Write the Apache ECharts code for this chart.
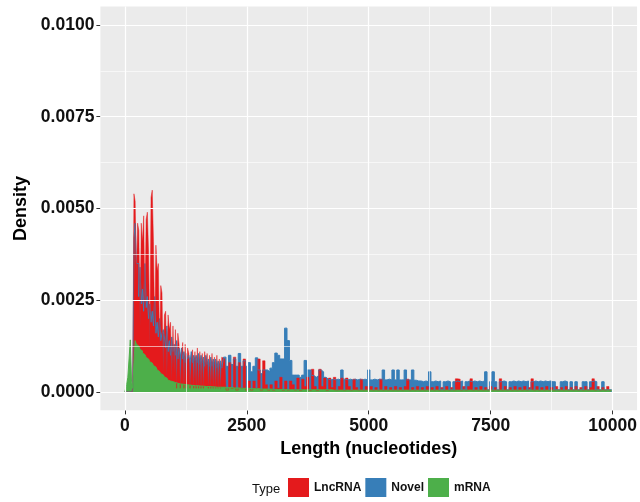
<!DOCTYPE html>
<html>
<head>
<meta charset="utf-8">
<script src="https://cdn.jsdelivr.net/npm/echarts@6/dist/echarts.min.js"></script>
<style>html,body{margin:0;padding:0;background:#fff}#c{width:640px;height:502px}</style>
</head>
<body>
<div id="c"></div>
<script>
// x positions (nucleotides)
const lengthsEarly = [
0,25,50,75,100,125,150,175,200,225,
250,275,300,325,350,375,400,425,450,475,
500,525,550,575,600,625,650,675,700,725,
750,775,800,825,850,875,900,925,950,975,
1000,1025,1050,1075,1100,1125,1150,1175,1200,1225,
1250,1275,1300,1325,1350,1375,1400,1425,1450,1475,
1500,1525,1550,1575,1600,1625,1650,1675,1700,1725,
1750,1775,1800,1825,1850,1875,1900,1925,1950,1975,
2000];
const lengthsLate = [
2050,2100,2150,2200,2250,2300,2350,2400,2450,2500,
2550,2600,2650,2700,2750,2800,2850,2900,2950,3000,
3050,3100,3150,3200,3250,3300,3350,3400,3450,3500,
3550,3600,3650,3700,3750,3800,3850,3900,3950,4000,
4050,4100,4150,4200,4250,4300,4350,4400,4450,4500,
4550,4600,4650,4700,4750,4800,4850,4900,4950,5000,
5050,5100,5150,5200,5250,5300,5350,5400,5450,5500,
5550,5600,5650,5700,5750,5800,5850,5900,5950,6000,
6050,6100,6150,6200,6250,6300,6350,6400,6450,6500,
6550,6600,6650,6700,6750,6800,6850,6900,6950,7000,
7050,7100,7150,7200,7250,7300,7350,7400,7450,7500,
7550,7600,7650,7700,7750,7800,7850,7900,7950,8000,
8050,8100,8150,8200,8250,8300,8350,8400,8450,8500,
8550,8600,8650,8700,8750,8800,8850,8900,8950,9000,
9050,9100,9150,9200,9250,9300,9350,9400,9450,9500,
9550,9600,9650,9700,9750,9800,9850,9900,9950,10000];

// LncRNA density
const lncEarly = [
0,0,0,0,0,0,0,0.0001,0.0054,0.0052,
0.0031,0.0046,0.0044,0.0018,0.0046,0.0041,0.0048,0.0022,0.0047,0.0049,
0.0038,0.0012,0.0053,0.0055,0.0041,0.0015,0.0040,0.0033,0.0035,0.0012,
0.0029,0.0027,0.0005,0.0021,0.0022,0.0004,0.0021,0.0017,0.0019,0.0003,
0.0018,0.0005,0.0017,0.0001,0.0016,0.0013,0.0001,0.0010,0.00135,0.0001,
0.0013,0.0001,0.0012,0.00105,0.0001,0.0008,0.00115,0.0001,0.0011,0.0001,
0.0012,0.0001,0.0011,0.0001,0.00105,0.0001,0.0011,0.0006,0.00105,0.0001,
0.001,0.0001,0.00105,0.0001,0.00095,0.0001,0.001,0.0001,0.0009,0.0001,
0.00095];
const lncLate = [
0.0009,0.00005,0.0008,0.0001,0.00095,0.00005,0.0008,0.0001,0.0009,0.00005,
0.0003,0.00005,0.0003,0.0001,0.0009,0.00005,0.00085,0.0002,0.00005,0.0002,
0.00005,0.0003,0.0001,0.0004,0.00005,0.0003,0.00005,0.0003,0.0002,0.00005,
0.00038,0.00004,0.00035,0.00015,0.0004,0.00004,0.00062,0.00015,0.00004,0.00062,
0.00015,0.00038,0.00004,0.00038,0.00012,0.0004,0.00004,0.00015,0.00038,0.00004,
0.00038,0.00015,0.00004,0.00035,0.00012,0.00004,0.00035,0.00004,0.00015,0.00004,
0.00015,0.00004,0.00012,0.00004,0.00035,0.00004,0.00015,0.00004,0.00012,0.00004,
0.00015,0.00004,0.00012,0.00004,0.00015,0.00035,0.00004,0.00012,0.00004,0.00015,
0.00004,0.00012,0.00004,0.00015,0.00004,0.00012,0.00004,0.00015,0.00004,0.00012,
0.00004,0.00015,0.00004,0.00012,0.00004,0.00036,0.00035,0.00004,0.00015,0.00004,
0.00015,0.00036,0.00004,0.00012,0.00004,0.00015,0.00004,0.00012,0.00004,0.00015,
0.00004,0.00012,0.00004,0.00036,0.00004,0.00015,0.00004,0.00012,0.00004,0.00015,
0.00004,0.00012,0.00004,0.00015,0.00004,0.00012,0.00036,0.00004,0.00015,0.00004,
0.00012,0.00004,0.00015,0.00004,0.00012,0.00004,0.00015,0.00004,0.00012,0.00004,
0.00015,0.00004,0.00012,0.00004,0.00015,0.00004,0.00012,0.00004,0.00015,0.00004,
0.00012,0.00036,0.00004,0.00015,0.00004,0.00012,0.00004,0.00015,0.00004,0.00008];

// Novel density
const novelEarly = [
0,0,0,0,0,0,0,0.0001,0.0042,0.0046,
0.0035,0.0035,0.0026,0.0034,0.0024,0.0028,0.0022,0.0035,0.0023,0.0026,
0.0020,0.0024,0.0019,0.0022,0.0018,0.0026,0.0016,0.0019,0.0015,0.0020,
0.0014,0.0016,0.0017,0.0015,0.0012,0.0018,0.0011,0.0014,0.0010,0.0015,
0.0011,0.0013,0.0010,0.0014,0.0009,0.0012,0.00095,0.0012,0.0009,0.0011,
0.0008,0.00105,0.0009,0.0010,0.0008,0.0011,0.0008,0.0010,0.00085,0.0010,
0.0008,0.00105,0.00075,0.0010,0.0008,0.00095,0.0007,0.0010,0.00075,0.0009,
0.0007,0.00095,0.0007,0.0009,0.00075,0.0009,0.00065,0.00085,0.0007,0.00085,
0.00065];
const novelLate = [
0.00095,0.0007,0.001,0.00075,0.0009,0.0007,0.00105,0.0007,0.00085,0.0007,
0.0008,0.00055,0.0007,0.00093,0.0006,0.0005,0.0006,0.0006,0.00055,0.00065,
0.0008,0.00106,0.001,0.0009,0.0009,0.00174,0.0014,0.00086,0.00046,0.00046,
0.00046,0.0004,0.00046,0.00086,0.0006,0.0006,0.00045,0.0004,0.00045,0.0006,
0.00055,0.0004,0.00035,0.00033,0.00035,0.00033,0.00035,0.00033,0.0006,0.00035,
0.00033,0.00035,0.00033,0.00035,0.00033,0.00035,0.00033,0.00035,0.00033,0.0006,
0.00033,0.00035,0.00033,0.00035,0.00033,0.0006,0.00033,0.00035,0.00033,0.0006,
0.00033,0.0006,0.00033,0.00033,0.0006,0.00033,0.00033,0.0006,0.00032,0.0003,
0.0003,0.00028,0.0003,0.00028,0.00055,0.00028,0.0003,0.00028,0.0003,0.00006,
0.00028,0.0003,0.00028,0.00006,0.00028,0.0003,0.00028,0.0003,0.00006,0.00028,
0.0003,0.00028,0.0003,0.00028,0.0003,0.00028,0.0003,0.00055,0.00006,0.00028,
0.00055,0.00028,0.00006,0.00028,0.0003,0.00028,0.00006,0.00028,0.0003,0.00028,
0.0003,0.00028,0.0003,0.00028,0.0003,0.00006,0.00028,0.0003,0.00028,0.0003,
0.00028,0.0003,0.00028,0.0003,0.00028,0.00028,0.00006,0.00006,0.00028,0.0003,
0.00028,0.00006,0.00028,0.00006,0.00028,0.00006,0.00006,0.00028,0.00028,0.00006,
0.00028,0.0003,0.00028,0.00006,0.00006,0.00028,0.00006,0.00006,0.00006,0.00004];

// mRNA density
const mrnaEarly = [
0,0.00005,0.0002,0.0004,0.0009,0.00142,0.0003,0.0001,0.0008,0.0014,
0.0013,0.00125,0.0012,0.00116,0.00112,0.00106,0.00102,0.00098,0.00094,0.0009,
0.00086,0.00082,0.00079,0.00076,0.00072,0.00068,0.00064,0.0006,0.00056,0.00053,
0.0005,0.00047,0.00044,0.00041,0.00038,0.00035,0.00032,0.0003,0.00029,0.00028,
0.00027,0.00026,0.00025,0.00024,0.00023,0.00022,0.00022,0.00021,0.00021,0.0002,
0.0002,0.00019,0.00019,0.00019,0.00018,0.00018,0.00018,0.00017,0.00017,0.00017,
0.00017,0.00016,0.00016,0.00016,0.00016,0.00015,0.00015,0.00015,0.00015,0.00015,
0.00014,0.00014,0.00014,0.00014,0.00014,0.00013,0.00013,0.00013,0.00013,0.00013,
0.00013];
const mrnaLate = [
0.00013,0.00012,0.00012,0.00012,0.00011,0.00011,0.00011,0.0001,0.0001,0.0001,
0.0001,0.00009,0.00009,0.00009,0.00009,0.00008,0.00008,0.00008,0.00008,0.00008,
0.00007,0.00007,0.00007,0.00007,0.00007,0.00007,0.00006,0.00006,0.00006,0.00006,
0.00006,0.00006,0.00006,0.00006,0.00006,0.00006,0.00006,0.00006,0.00006,0.00006,
0.00006,0.00006,0.00006,0.00006,0.00006,0.00005,0.00005,0.00005,0.00005,0.00005,
0.00005,0.00005,0.00005,0.00005,0.00005,0.00005,0.00005,0.00005,0.00005,0.00005,
0.00005,0.00005,0.00005,0.00005,0.00005,0.00005,0.00005,0.00005,0.00005,0.00005,
0.00005,0.00005,0.00005,0.00005,0.00005,0.00005,0.00005,0.00005,0.00005,0.00005,
0.00005,0.00005,0.00005,0.00005,0.00005,0.00005,0.00005,0.00005,0.00005,0.00005,
0.00005,0.00005,0.00005,0.00005,0.00005,0.00005,0.00005,0.00005,0.00005,0.00005,
0.00005,0.00005,0.00005,0.00005,0.00005,0.00005,0.00005,0.00005,0.00005,0.00005,
0.00005,0.00005,0.00005,0.00005,0.00005,0.00005,0.00005,0.00005,0.00005,0.00005,
0.00005,0.00005,0.00005,0.00005,0.00005,0.00005,0.00005,0.00005,0.00005,0.00005,
0.00005,0.00005,0.00005,0.00005,0.00005,0.00005,0.00005,0.00005,0.00005,0.00005,
0.00005,0.00005,0.00005,0.00005,0.00005,0.00005,0.00005,0.00005,0.00005,0.00005,
0.00005,0.00005,0.00005,0.00005,0.00005,0.00005,0.00005,0.00005,0.00005,0.00004];

const xTicks = [0, 2500, 5000, 7500, 10000];
const xMinor = [1250, 3750, 6250, 8750];
const yTicks = [0, 0.0025, 0.005, 0.0075, 0.01];
const yMinor = [0.00125, 0.00375, 0.00625, 0.00875];
const X_MIN = -500, X_MAX = 10500, Y_MIN = -0.0005, Y_MAX = 0.0105;

const typeNames = ['LncRNA', 'Novel', 'mRNA'];
const colors = {LncRNA: '#E41A1C', Novel: '#377EB8', mRNA: '#4DAF4A'};
const strokeWidths = {LncRNA: 0.5, Novel: 1, mRNA: 1};

const lengths = lengthsEarly.concat(lengthsLate);
function pairs(vals) { return lengths.map((x, i) => [x, vals[i]]); }
const lncValues = lncEarly.concat(lncLate);
const novelValues = novelEarly.concat(novelLate);
const mrnaValues = mrnaEarly.concat(mrnaLate);

const FONT = '"Liberation Sans", Arial, Helvetica, sans-serif';

function areaSeries(name, vals) {
  return {
    name: name, type: 'line', data: pairs(vals), step: 'middle',
    symbol: 'none', showSymbol: false, z: 3,
    lineStyle: {color: colors[name], width: strokeWidths[name]},
    itemStyle: {color: colors[name]},
    areaStyle: {color: colors[name], opacity: 1},
    emphasis: {disabled: true}
  };
}

const gridLines = [];
function vLine(v, w) { gridLines.push([{coord: [v, Y_MIN], lineStyle: {width: w}}, {coord: [v, Y_MAX]}]); }
function hLine(v, w) { gridLines.push([{coord: [X_MIN, v], lineStyle: {width: w}}, {coord: [X_MAX, v]}]); }
xMinor.forEach(v => vLine(v, 0.6));
yMinor.forEach(v => hLine(v, 0.6));
xTicks.forEach(v => vLine(v, 1.2));
yTicks.forEach(v => hLine(v, 1.2));

const chart = echarts.init(document.getElementById('c'), null, {renderer: 'canvas'});
chart.setOption({
  animation: false,
  backgroundColor: '#ffffff',
  grid: {left: 100.4, top: 6.6, width: 541.2, height: 403.75, show: true,
         backgroundColor: '#EBEBEB', borderWidth: 0, containLabel: false},
  xAxis: {
    type: 'value', min: X_MIN, max: X_MAX,
    name: 'Length (nucleotides)', nameLocation: 'middle', nameGap: 30,
    nameTextStyle: {fontFamily: FONT, fontSize: 18, fontWeight: 'bold', color: '#000'},
    axisLine: {show: false, onZero: false},
    axisTick: {show: true, customValues: xTicks, length: 4, lineStyle: {color: '#333', width: 1}},
    axisLabel: {customValues: xTicks, margin: 7, fontFamily: FONT, fontSize: 17.5, fontWeight: 'bold', color: '#111',
                formatter: v => String(v)},
    splitLine: {show: false}
  },
  yAxis: {
    type: 'value', min: Y_MIN, max: Y_MAX,
    name: 'Density', nameLocation: 'middle', nameGap: 70, nameRotate: 90,
    nameTextStyle: {fontFamily: FONT, fontSize: 18, fontWeight: 'bold', color: '#000'},
    axisLine: {show: false, onZero: false},
    axisTick: {show: true, customValues: yTicks, length: 4, lineStyle: {color: '#333', width: 1}},
    axisLabel: {customValues: yTicks, margin: 6, fontFamily: FONT, fontSize: 17.5, fontWeight: 'bold', color: '#111',
                formatter: v => v.toFixed(4)},
    splitLine: {show: false}
  },
  legend: {
    data: typeNames, left: 288, top: 478, padding: 0, itemWidth: 21, itemHeight: 19, itemGap: 4,
    icon: 'rect', selectedMode: false,
    textStyle: {fontFamily: FONT, fontSize: 12, fontWeight: 'bold', color: '#111'}
  },
  graphic: [{type: 'text', left: 252, top: 483,
    style: {text: 'Type', fontFamily: FONT, fontSize: 13, fill: '#111'}}],
  series: [
    {type: 'line', data: [], silent: true, z: 1,
     markLine: {silent: true, symbol: 'none', label: {show: false}, animation: false,
                lineStyle: {color: '#ffffff', type: 'solid', width: 1.2}, data: gridLines}},
    areaSeries('Novel', novelValues),
    areaSeries('LncRNA', lncValues),
    areaSeries('mRNA', mrnaValues)
  ]
});
</script>
</body>
</html>
